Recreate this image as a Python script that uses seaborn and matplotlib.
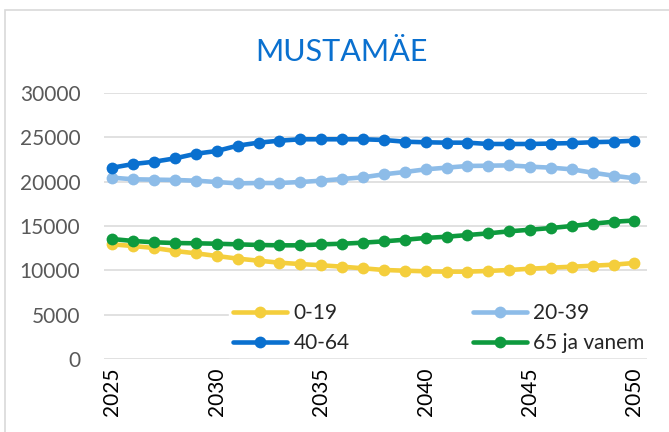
import pandas as pd
import matplotlib.pyplot as plt
import seaborn as sns
from matplotlib.patches import Rectangle

# data
years = list(range(2025, 2051))
vanus_0_19 = [12930, 12740, 12520, 12180, 11920, 11620, 11320, 11090, 10860, 10710,
              10570, 10410, 10230, 10040, 9960, 9890, 9850, 9850, 9930, 10040,
              10180, 10300, 10410, 10520, 10640, 10830]
vanus_20_39 = [20450, 20270, 20230, 20190, 20110, 19960, 19810, 19850, 19850, 19960,
               20110, 20300, 20490, 20830, 21090, 21390, 21580, 21770, 21800, 21840,
               21690, 21580, 21390, 21010, 20670, 20380]
vanus_40_64 = [21575, 21990, 22250, 22630, 23150, 23460, 24060, 24400, 24620, 24780,
               24780, 24780, 24780, 24700, 24510, 24440, 24400, 24400, 24250, 24250,
               24250, 24300, 24350, 24450, 24510, 24620]
vanus_65 = [13530, 13310, 13160, 13080, 13050, 13000, 12930, 12860, 12820, 12820,
            12930, 13000, 13120, 13270, 13450, 13650, 13790, 13980, 14170, 14400,
            14580, 14770, 15000, 15260, 15480, 15620]
groups = ["0-19", "20-39", "40-64", "65 ja vanem"]
colors = ["#F4CE3C", "#8DBCE8", "#0A70CF", "#0E9A3E"]

frames = []
for g, vals in zip(groups, [vanus_0_19, vanus_20_39, vanus_40_64, vanus_65]):
    frames.append(pd.DataFrame({"aasta": years, "elanikke": vals, "vanus": g}))
df = pd.concat(frames, ignore_index=True)

sns.set_style("white")
plt.rcParams["font.family"] = ["Lato", "DejaVu Sans"]

fig = plt.figure(figsize=(6.69, 4.32), dpi=100)
ax = fig.add_axes([104 / 669, 1 - 359 / 432, (647 - 104) / 669, (359 - 93) / 432])

# outer chart border
fig.patches.append(Rectangle((5 / 669, -0.1), 1.2, 1 - 10 / 432 + 0.1,
                             transform=fig.transFigure, fill=False,
                             edgecolor="#D9D9D9", linewidth=1.2))

sns.lineplot(data=df, x="aasta", y="elanikke", hue="vanus", hue_order=groups,
             palette=colors, marker="o", markersize=8.5, markeredgewidth=0,
             linewidth=3.3, ax=ax, legend=False)

ax.set_xlim(2024.6, 2050.6)
ax.set_ylim(0, 30000)
ax.set_yticks(range(0, 30001, 5000))
ax.set_xticks(range(2025, 2051, 5))
ax.set_xticklabels([str(y) for y in range(2025, 2051, 5)], rotation=90)
ax.grid(axis="y", color="#D9D9D9", linewidth=1.1)
ax.set_axisbelow(True)
for s in ax.spines.values():
    s.set_visible(False)
ax.tick_params(axis="y", length=0, pad=17, labelsize=15, labelcolor="#595959")
ax.tick_params(axis="x", length=0, pad=6, labelsize=15, labelcolor="#000000")
ax.set_xlabel("")
ax.set_ylabel("")

fig.text(341 / 669, 1 - 52 / 432, "MUSTAMÄE", fontsize=22, color="#0A70CF",
         ha="center", va="center")

handles = ax.get_lines()
order = [0, 2, 1, 3]
leg = ax.legend([handles[i] for i in order], [groups[i] for i in order],
                ncol=2, loc="lower left", bbox_to_anchor=(229 / 669, 1 - 357 / 432),
                bbox_transform=fig.transFigure, borderaxespad=0, fontsize=15,
                frameon=True, handlelength=2.6, columnspacing=5.9, handletextpad=0.3,
                labelspacing=0.45, borderpad=0.2, fancybox=False)
leg.get_frame().set_facecolor("white")
leg.get_frame().set_edgecolor("white")
leg.get_frame().set_alpha(1)

plt.savefig("out.png", dpi=100)
